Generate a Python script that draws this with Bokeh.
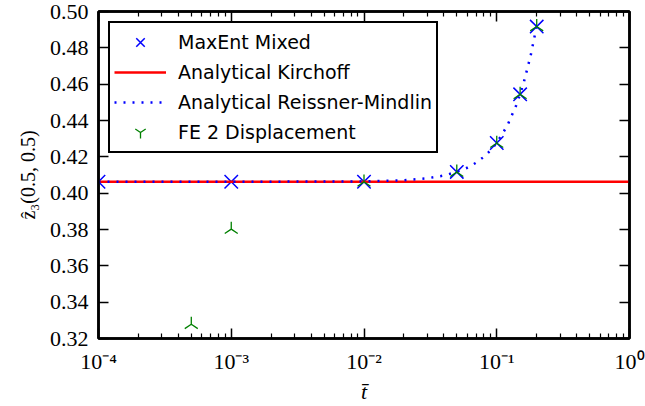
import math
from bokeh.plotting import figure
from bokeh.models import (LogAxis, LinearAxis, FixedTicker, PrintfTickFormatter,
                          CustomJSTickFormatter, Legend, LegendItem, Range1d)
from bokeh.embed import file_html
from bokeh.resources import INLINE

# ---- data ----
t_maxent = [1e-4, 1e-3, 1e-2, 0.05, 0.1, 0.15, 0.2]
w_maxent = [0.4063, 0.4063, 0.4063, 0.4117, 0.4276, 0.4544, 0.4917]

t_kirchhoff = [1e-4, 1.0]
w_kirchhoff = [0.4063, 0.4063]

t_rm = [1e-4, 1e-3, 0.005, 0.01, 0.02, 0.03, 0.04, 0.05, 0.06, 0.07, 0.08,
        0.09, 0.1, 0.12, 0.14, 0.15, 0.16, 0.18, 0.2]
w_rm = [0.4063, 0.4063, 0.4064, 0.4065, 0.4071, 0.4082, 0.4097, 0.4117, 0.4140,
        0.4168, 0.4200, 0.4236, 0.4277, 0.4371, 0.4483, 0.4545, 0.4611, 0.4757, 0.4920]

t_fe = [5e-4, 1e-3, 1e-2, 0.05, 0.1, 0.15, 0.2]
w_fe = [0.3278, 0.3802, 0.4062, 0.4116, 0.4275, 0.4544, 0.4917]

x_tick_values = [1e-4, 1e-3, 1e-2, 1e-1, 1.0]
x_tick_labels = ["10\u207b\u2074", "10\u207b\u00b3", "10\u207b\u00b2", "10\u207b\u00b9", "10\u2070"]
x_minor_ticks = [m * 10.0 ** k for k in range(-4, 0) for m in range(2, 10)]
y_tick_values = [0.32, 0.34, 0.36, 0.38, 0.40, 0.42, 0.44, 0.46, 0.48, 0.50]

series_labels = ["MaxEnt Mixed", "Analytical Kirchoff",
                 "Analytical Reissner-Mindlin", "FE 2 Displacement"]

# ---- figure ----
p = figure(width=645, height=406, x_axis_type="log",
           x_range=Range1d(1e-4, 1.0), y_range=Range1d(0.32, 0.50),
           output_backend="svg", toolbar_location=None,
           min_border_left=98, min_border_right=16,
           min_border_top=11, min_border_bottom=67)
p.xgrid.visible = False
p.ygrid.visible = False
p.outline_line_color = "black"
p.outline_line_width = 2.5
p.background_fill_color = "white"
p.border_fill_color = "white"

xt = FixedTicker(ticks=x_tick_values, minor_ticks=x_minor_ticks)
yt = FixedTicker(ticks=y_tick_values, minor_ticks=[])
xfmt = CustomJSTickFormatter(args=dict(vals=x_tick_values, labels=x_tick_labels), code="""
for (let i = 0; i < vals.length; i++) {
  if (Math.abs(Math.log10(tick) - Math.log10(vals[i])) < 1e-6) return labels[i];
}
return "";
""")
blank = CustomJSTickFormatter(code="return '';")

serif = "Liberation Serif"

def style_axis(ax, ticker, show_labels):
    ax.ticker = ticker
    ax.axis_line_color = "black"
    ax.axis_line_width = 2.5
    ax.major_tick_in = 10
    ax.major_tick_out = 0
    ax.minor_tick_in = 5
    ax.minor_tick_out = 0
    ax.major_tick_line_width = 1.5
    ax.minor_tick_line_width = 1.2
    ax.major_tick_line_color = "black"
    ax.minor_tick_line_color = "black"
    if show_labels:
        ax.major_label_text_font = serif
        ax.major_label_text_font_size = "22px"
        ax.major_label_text_color = "black"
        ax.major_label_standoff = 10
    else:
        ax.formatter = blank
        ax.major_label_text_font_size = "1px"
        ax.major_label_standoff = 0
        ax.axis_label_standoff = 0

xa = p.xaxis[0]
style_axis(xa, xt, True)
xa.formatter = xfmt
xa.axis_label = "t\u0304"
xa.axis_label_text_font = serif
xa.axis_label_text_font_style = "italic"
xa.axis_label_text_font_size = "22px"
xa.axis_label_text_color = "black"
xa.axis_label_standoff = 2

ya = p.yaxis[0]
style_axis(ya, yt, True)
ya.formatter = PrintfTickFormatter(format="%.2f")
ya.axis_label = "\u1e91\u2083(0.5, 0.5)"
ya.axis_label_text_font = serif
ya.axis_label_text_font_style = "normal"
ya.axis_label_text_font_size = "20px"
ya.axis_label_text_color = "black"
ya.axis_label_standoff = 8

top = LogAxis()
style_axis(top, xt, False)
p.add_layout(top, "above")
right = LinearAxis()
style_axis(right, yt, False)
p.add_layout(right, "right")

# ---- glyphs ----
r1 = p.scatter(t_maxent, w_maxent, marker="x", size=19, line_color="#0000ff",
               line_width=1.5)
r2 = p.line(t_kirchhoff, w_kirchhoff, line_color="#ff0000", line_width=2.5)
r3 = p.line(t_rm, w_rm, line_color="#0000ff", line_width=2.5, line_dash="2 7")
r4 = p.scatter(t_fe, w_fe, marker="y", size=15, angle=math.pi,
               line_color="#008000", line_width=1.3)

legend = Legend(items=[LegendItem(label=series_labels[0], renderers=[r1]),
                       LegendItem(label=series_labels[1], renderers=[r2]),
                       LegendItem(label=series_labels[2], renderers=[r3]),
                       LegendItem(label=series_labels[3], renderers=[r4])],
                location="top_left", border_line_color="black",
                border_line_width=2, border_line_alpha=1.0,
                background_fill_color="white", background_fill_alpha=1.0,
                label_text_font="DejaVu Sans", label_text_font_size="19px",
                label_text_color="black",
                glyph_width=52, glyph_height=30, label_height=30,
                spacing=0, padding=4, margin=10, label_standoff=12)
p.add_layout(legend)

open("out.html", "w").write(file_html(p, INLINE))
